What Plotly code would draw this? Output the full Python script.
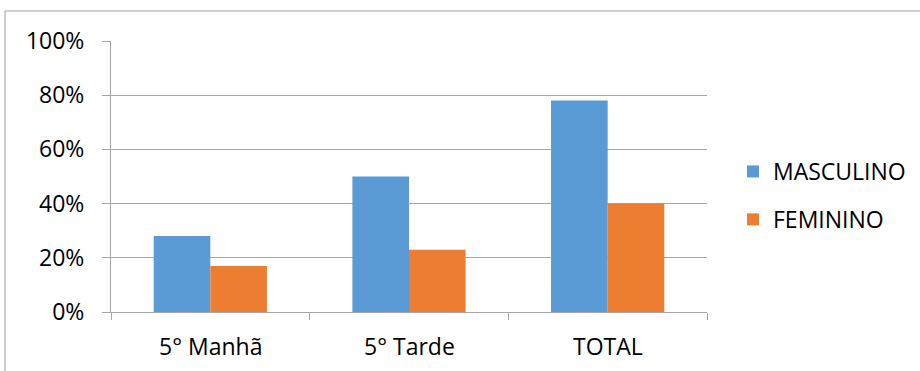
import plotly.graph_objects as go

# Participação por turma e sexo
categorias = ["5° Manhã", "5° Tarde", "TOTAL"]
masculino = [28, 50, 78]
feminino = [17, 23, 40]
ticks_y = [0, 20, 40, 60, 80, 100]
ticks_y_txt = ["0%", "20%", "40%", "60%", "80%", "100%"]

W, H = 920, 371
L, R, T, B = 111, 707, 41, 312  # área do gráfico em pixels

FONT = "Open Sans"
FS = 23
GRID = "#a6a6a6"

fig = go.Figure()
fig.add_trace(go.Bar(name="MASCULINO", x=categorias, y=masculino,
                     marker=dict(color="#5B9BD5", line=dict(width=0)),
                     legendgroup="m"))
fig.add_trace(go.Bar(name="FEMININO", x=categorias, y=feminino,
                     marker=dict(color="#ED7D31", line=dict(width=0)),
                     legendgroup="f"))

def px_x(px):
    return (px - L) / (R - L)

def px_y(py):
    return (B - py) / (B - T)

fig.update_layout(
    width=W, height=H,
    margin=dict(l=L, r=W - R, t=T, b=H - B, pad=0, autoexpand=False),
    paper_bgcolor="white", plot_bgcolor="white",
    barmode="group", bargap=0.43, bargroupgap=0,
    font=dict(family=FONT, size=FS, color="#000000"),
    showlegend=True,
    legend=dict(xref="container", yref="container",
                x=733 / W, y=1 - 150 / H, xanchor="left", yanchor="top",
                font=dict(family=FONT, size=FS, color="#000000"),
                tracegroupgap=15, itemwidth=30, bgcolor="rgba(0,0,0,0)"),
    xaxis=dict(showline=True, linecolor=GRID, linewidth=1,
               ticks="outside", ticklen=7, tickcolor=GRID,
               tickmode="array", tickvals=[-0.5, 0.5, 1.5, 2.5],
               ticktext=["", "", "", ""],
               range=[-0.5, 2.5], showgrid=False, zeroline=False,
               fixedrange=True),
    yaxis=dict(range=[0, 100], tickmode="array", tickvals=ticks_y,
               ticktext=ticks_y_txt, showgrid=True, gridcolor=GRID,
               gridwidth=1, showline=True, linecolor=GRID, linewidth=1,
               ticks="outside", ticklen=8, tickcolor=GRID,
               ticklabelstandoff=13, zeroline=False, fixedrange=True),
)

# rótulos das categorias, centrados em cada grupo
for i, c in enumerate(categorias):
    fig.add_annotation(x=i, y=px_y(346), xref="x", yref="paper", text=c,
                       showarrow=False, xanchor="center", yanchor="middle",
                       font=dict(family=FONT, size=FS, color="#000000"))

# moldura do gráfico (topo e lado esquerdo)
fig.add_shape(type="line", xref="paper", yref="paper",
              x0=px_x(5), x1=px_x(W + 5), y0=px_y(11), y1=px_y(11),
              line=dict(color="#a0a0a0", width=1))
fig.add_shape(type="line", xref="paper", yref="paper",
              x0=px_x(5), x1=px_x(5), y0=px_y(11), y1=px_y(H + 5),
              line=dict(color="#a0a0a0", width=1))

fig.write_html("out.html")
